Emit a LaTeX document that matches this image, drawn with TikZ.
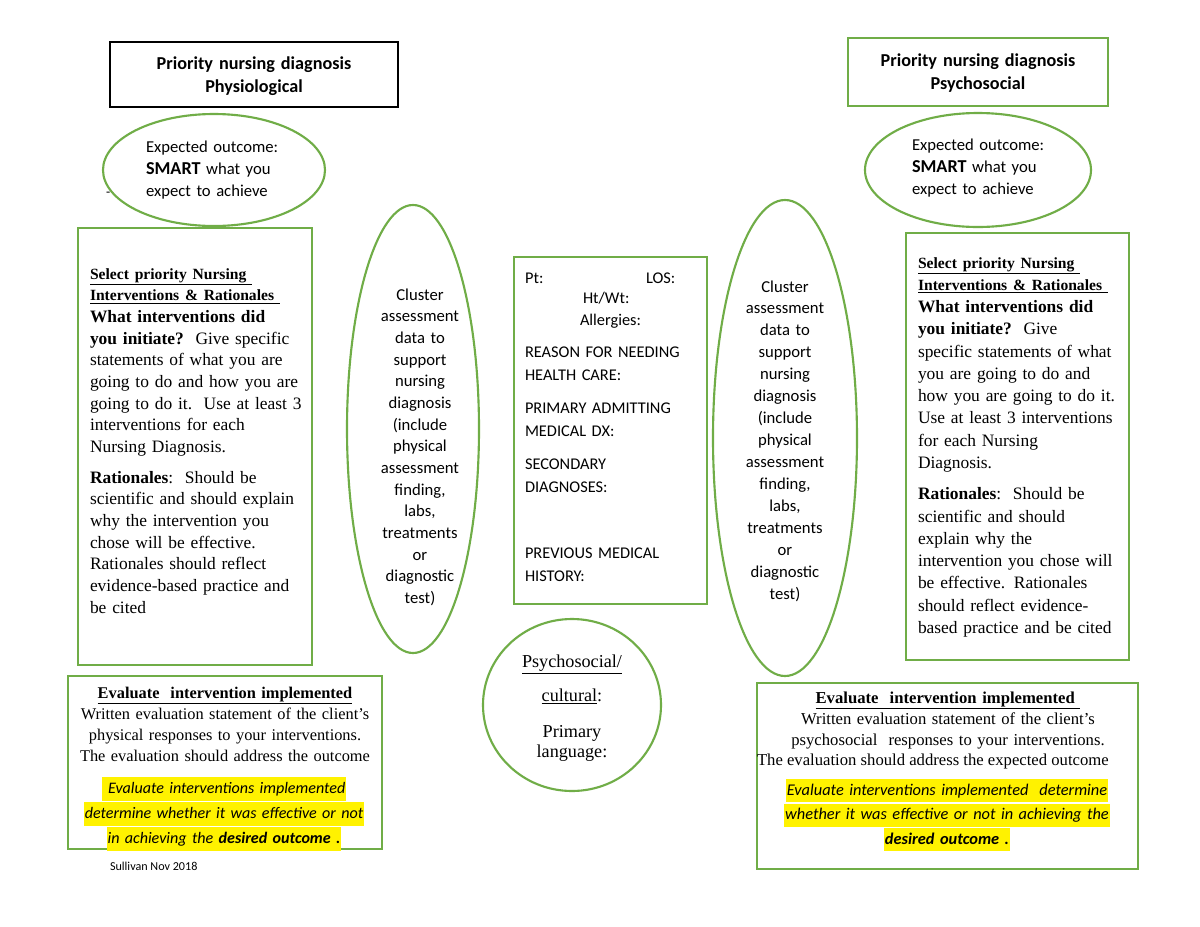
\documentclass[tikz,border=0pt]{standalone}
\usepackage{fontspec}
\setmainfont{Liberation Serif}
\newfontfamily\carl{Carlito}
\definecolor{grn}{HTML}{70AD47}
\newcommand{\hlt}[1]{{\setlength{\fboxsep}{0.6pt}\colorbox{yellow}{\strut #1}}}
\newcommand{\hd}{\fontsize{10.3}{14.3}\selectfont\bfseries}
\begin{document}
\begin{tikzpicture}[x=0.66pt,y=-0.66pt,
  gline/.style={draw=grn,line width=1.4pt},
  bline/.style={draw=black,line width=1.3pt},
  txt/.style={inner sep=0pt,outer sep=0pt},
  lblock/.style={txt,anchor=base west,align=left,text width=#1},
  cblock/.style={txt,anchor=base,align=center,text width=#1},
]
\useasboundingbox (0,0) rectangle (1200,927);
\fill[white] (0,0) rectangle (1200,927);

% ---- shapes ----
\draw[bline] (110,42) rectangle (398,107);
\draw[gline] (848,38) rectangle (1108,106);
\draw[gline] (214,170) ellipse [x radius=111, y radius=56];
\draw[gline] (978,170) ellipse [x radius=113, y radius=57];
\draw[gline] (78,228) rectangle (312,665);
\draw[gline] (906,233) rectangle (1129,660);
\draw[gline] (413,429) ellipse [x radius=66, y radius=224];
\draw[gline] (785,438) ellipse [x radius=72, y radius=238];
\draw[gline] (514,257) rectangle (707,604);
\draw[gline] (572,705) ellipse [x radius=89, y radius=86];
\draw[gline] (68,676) rectangle (382,849);
\draw[gline] (757,683) rectangle (1138,869);

% ---- titles ----
\node[cblock=260pt,font=\carl\bfseries\fontsize{12}{15.8}\selectfont] (t1) at (254,69)
  {Priority nursing diagnosis\\Physiological};
\node[cblock=260pt,font=\carl\bfseries\fontsize{12}{15.8}\selectfont] (t2) at (978,66)
  {Priority nursing diagnosis\\Psychosocial};

% ---- expected outcome ----
\node[lblock=150pt,font=\carl\fontsize{11}{14.8}\selectfont] (eo1) at (146,152)
  {Expected outcome:\\{\bfseries\fontsize{12}{14.8}\selectfont SMART} what you\\expect to achieve};
\node[txt,anchor=base west,font=\carl\fontsize{9}{11}\selectfont] (dash) at (106,196) {-};
\node[lblock=150pt,font=\carl\fontsize{11}{14.8}\selectfont] (eo2) at (912,150)
  {Expected outcome:\\{\bfseries\fontsize{12}{14.8}\selectfont SMART} what you\\expect to achieve};

% ---- left interventions ----
\node[lblock=160pt,font=\fontsize{11.5}{14.3}\selectfont] (li) at (90,279)
  {{\hd\underline{Select priority Nursing\ }}\\
   {\hd\underline{Interventions \& Rationales\ }}\\
   \textbf{What interventions did}\\
   \textbf{you initiate?}\ \ Give specific\\
   statements of what you are\\
   going to do and how you are\\
   going to do it.\ \ Use at least 3\\
   interventions for each\\
   Nursing Diagnosis.\\[6pt]
   \textbf{Rationales}:\ \ Should be\\
   scientific and should explain\\
   why the intervention you\\
   chose will be effective.\\
   Rationales should reflect\\
   evidence-based practice and\\
   be cited};

% ---- right interventions ----
\node[lblock=160pt,font=\fontsize{11.5}{14.7}\selectfont] (ri) at (918,268)
  {{\hd\underline{Select priority Nursing\ }}\\
   {\hd\underline{Interventions \& Rationales\ }}\\
   \textbf{What interventions did}\\
   \textbf{you initiate?}\ \ Give\\
   specific statements of what\\
   you are going to do and\\
   how you are going to do it.\\
   Use at least 3 interventions\\
   for each Nursing\\
   Diagnosis.\\[6pt]
   \textbf{Rationales}:\ \ Should be\\
   scientific and should\\
   explain why the\\
   intervention you chose will\\
   be effective. Rationales\\
   should reflect evidence-\\
   based practice and be cited};

% ---- cluster ellipses ----
\node[cblock=80pt,font=\carl\fontsize{11}{14.3}\selectfont] (cl1) at (420,300)
  {Cluster\\assessment\\data to\\support\\nursing\\diagnosis\\(include\\physical\\assessment\\finding,\\labs,\\treatments\\or\\diagnostic\\test)};
\node[cblock=80pt,font=\carl\fontsize{11}{14.5}\selectfont] (cl2) at (785,292)
  {Cluster\\assessment\\data to\\support\\nursing\\diagnosis\\(include\\physical\\assessment\\finding,\\labs,\\treatments\\or\\diagnostic\\test)};

% ---- patient box ----
\begin{scope}[every node/.style={txt,font=\carl\fontsize{10.8}{15.2}\selectfont}]
\node[anchor=base west] (pt) at (525,283) {Pt:};
\node[anchor=base west] (los) at (646,283) {LOS:};
\node[anchor=base west] (ht) at (583,303) {Ht/Wt:};
\node[anchor=base west] (al) at (580,325) {Allergies:};
\node[lblock=130pt] (rs) at (525,357) {REASON FOR NEEDING\\HEALTH CARE:};
\node[lblock=130pt] (pr) at (525,413) {PRIMARY ADMITTING\\MEDICAL DX:};
\node[lblock=130pt] (sd) at (525,469) {SECONDARY\\DIAGNOSES:};
\node[lblock=130pt] (pm) at (525,558) {PREVIOUS MEDICAL\\HISTORY:};
\end{scope}

% ---- circle ----
\node[txt,anchor=base,font=\fontsize{12}{13.2}\selectfont] (ps1) at (572,667) {\underline{Psychosocial/}};
\node[txt,anchor=base,font=\fontsize{12}{13.2}\selectfont] (ps2) at (572,701) {\underline{cultural}:};
\node[cblock=100pt,font=\fontsize{12}{13.2}\selectfont] (ps3) at (572,737) {Primary\\language:};

% ---- bottom left evaluation ----
\node[cblock=205pt,font=\fontsize{10.8}{13.9}\selectfont] (ev1) at (225,698)
  {\textbf{\underline{Evaluate\ \ intervention implemented}}\\
   Written evaluation statement of the client’s\\
   physical responses to your interventions.\\
   The evaluation should address the outcome};
\node[cblock=205pt,font=\carl\itshape\fontsize{10.6}{14.5}\selectfont] (hl1) at (224,793)
  {\hlt{\ Evaluate interventions implemented}\\
   \hlt{determine whether it was effective or not}\\
   \hlt{in achieving the \textbf{desired outcome .}}};
\node[txt,anchor=base west,font=\carl\fontsize{8}{10}\selectfont] (sul) at (110,870) {Sullivan Nov 2018};

% ---- bottom right evaluation ----
\node[cblock=240pt,font=\fontsize{11}{13.9}\selectfont] (ev2) at (948,703)
  {\textbf{\underline{Evaluate\ \ intervention implemented\ }}\\
   Written evaluation statement of the client’s\\
   psychosocial\ \ responses to your interventions.};
\node[txt,anchor=base west,font=\fontsize{11}{13.9}\selectfont] (ev2b) at (757,765)
  {The evaluation should address the expected outcome};
\node[cblock=240pt,font=\carl\itshape\fontsize{10.8}{14}\selectfont] (hl2) at (947,795)
  {\hlt{Evaluate interventions implemented\ \ determine}\\
   \hlt{whether it was effective or not in achieving the}\\
   \hlt{\textbf{desired outcome .}}};
\end{tikzpicture}
\end{document}
